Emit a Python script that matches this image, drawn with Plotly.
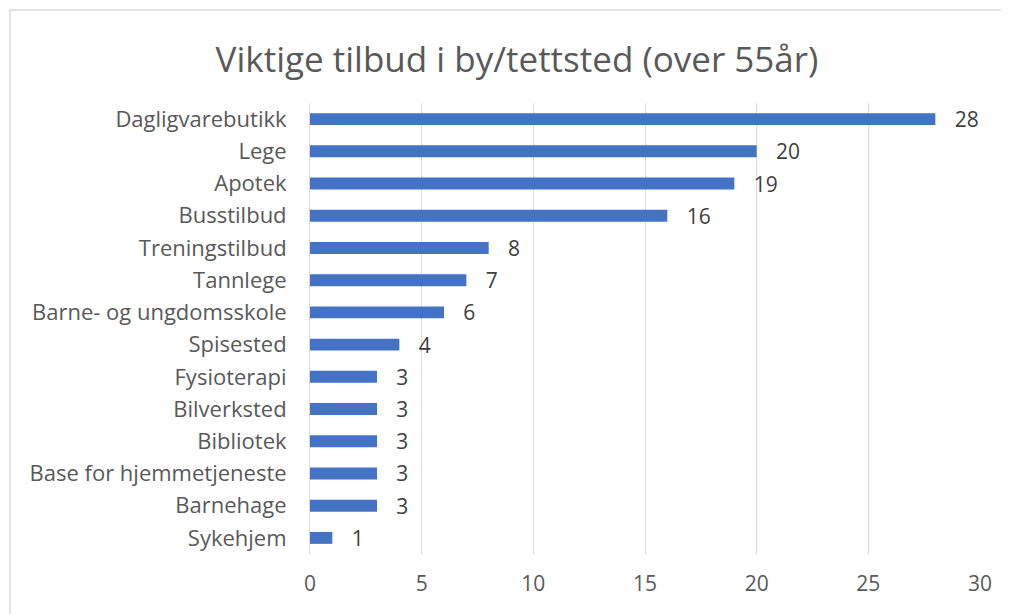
import plotly.graph_objects as go

categories = ["Dagligvarebutikk", "Lege", "Apotek", "Busstilbud", "Treningstilbud",
              "Tannlege", "Barne- og ungdomsskole", "Spisested", "Fysioterapi",
              "Bilverksted", "Bibliotek", "Base for hjemmetjeneste", "Barnehage", "Sykehjem"]
values = [28, 20, 19, 16, 8, 7, 6, 4, 3, 3, 3, 3, 3, 1]
x_ticks = [0, 5, 10, 15, 20, 25, 30]

FONT = "Open Sans"
GRAY = "#595959"

fig = go.Figure(go.Bar(
    y=categories, x=values, orientation="h",
    marker=dict(color="#4472C4", line=dict(width=0)),
    width=0.37,
    text=values, texttemplate="   %{x}", textposition="outside",
    constraintext="none",
    textfont=dict(family=FONT, size=21, color="#404040"),
    cliponaxis=False,
))

W, H = 1001, 606
l, r, t, b = 302, 29, 95, 60
pw, ph = W - l - r, H - t - b

fig.update_layout(
    width=W, height=H,
    margin=dict(l=l, r=r, t=t, b=b),
    paper_bgcolor="white", plot_bgcolor="white",
    title=dict(text="Viktige tilbud i by/tettsted (over 55år)",
               font=dict(family=FONT, size=35, color=GRAY),
               x=0.5085, xanchor="center", y=1 - 52 / H, yanchor="middle"),
    xaxis=dict(range=[0, 30], tickvals=x_ticks, showgrid=True, gridcolor="#D9D9D9",
               gridwidth=1, zeroline=False, showline=False,
               tickfont=dict(family=FONT, size=21, color=GRAY), ticklabelstandoff=15),
    yaxis=dict(categoryorder="array", categoryarray=categories, autorange="reversed",
               showline=True, linecolor="#D9D9D9", linewidth=1, showgrid=False,
               tickfont=dict(family=FONT, size=22, color=GRAY), ticklabelstandoff=18),
    showlegend=False,
    bargap=0.63,
    shapes=[dict(type="rect", xref="paper", yref="paper",
                 x0=(2 - l) / pw, x1=(W + 20 - l) / pw,
                 y0=-(H + 20 - (H - b)) / ph, y1=(H - b - 2) / ph,
                 line=dict(color="#D9D9D9", width=1.5), fillcolor="rgba(0,0,0,0)", layer="below")],
)

fig.write_html("out.html")
